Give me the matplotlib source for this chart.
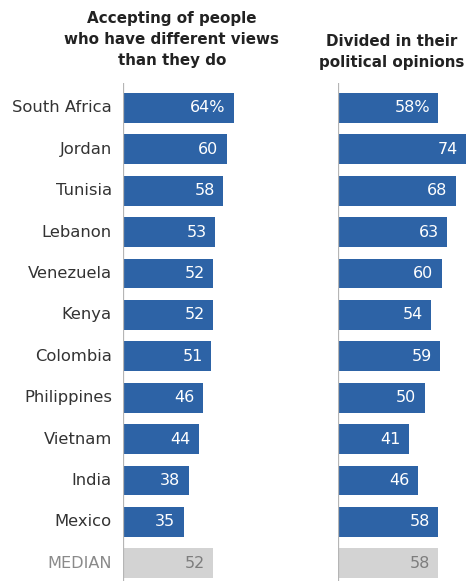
import matplotlib.pyplot as plt

countries = ["South Africa", "Jordan", "Tunisia", "Lebanon", "Venezuela", "Kenya",
             "Colombia", "Philippines", "Vietnam", "India", "Mexico"]
accepting = [64, 60, 58, 53, 52, 52, 51, 46, 44, 38, 35]
divided = [58, 74, 68, 63, 60, 54, 59, 50, 41, 46, 58]
median_accepting = 52
median_divided = 58

titles = ["Accepting of people\nwho have different views\nthan they do",
          "Divided in their\npolitical opinions"]

blue = "#2d63a6"
grey_bar = "#d3d3d3"
W, H = 475, 581

plt.rcParams['font.family'] = ['DejaVu Sans']
fig = plt.figure(figsize=(W / 100, H / 100), dpi=100)

def panel(x0, xmax, vals, med, first):
    ax = fig.add_axes([x0 / W, 0, (xmax * 1.73) / W, 498 / H])
    ax.set_xlim(0, xmax)
    ax.set_ylim(11.43, -0.604)
    ys = list(range(len(vals)))
    ax.barh(ys, vals, height=0.72, color=blue)
    ax.barh([len(vals)], [med], height=0.72, color=grey_bar)
    for i, v in enumerate(vals):
        t = f"{v}%" if i == 0 else str(v)
        ax.text(v - 4.8, i, t, color="white", ha="right", va="center", fontsize=11.5)
    ax.text(med - 4.8, len(vals), str(med), color="#7d7d7d", ha="right", va="center", fontsize=11.5)
    ax.axvline(0, color="#b5b5b5", lw=0.9)
    for s in ax.spines.values():
        s.set_visible(False)
    ax.set_xticks([])
    ax.set_yticks([])
    if first:
        for i, c in enumerate(countries):
            ax.text(-6.4, i, c, ha="right", va="center", fontsize=11.8, color="#333333")
        ax.text(-6.4, len(vals), "MEDIAN", ha="right", va="center", fontsize=11.6, color="#8a8a8a")
    return ax

panel(123, 70, accepting, median_accepting, True)
panel(338, 78, divided, median_divided, False)

fig.text(172 / W, 1 - 40 / H, titles[0], ha="center", va="center", fontsize=10.9,
         fontweight="bold", color="#222222", linespacing=1.5)
fig.text(392 / W, 1 - 52 / H, titles[1], ha="center", va="center", fontsize=10.9,
         fontweight="bold", color="#222222", linespacing=1.5)

fig.savefig("out.png", dpi=100)
